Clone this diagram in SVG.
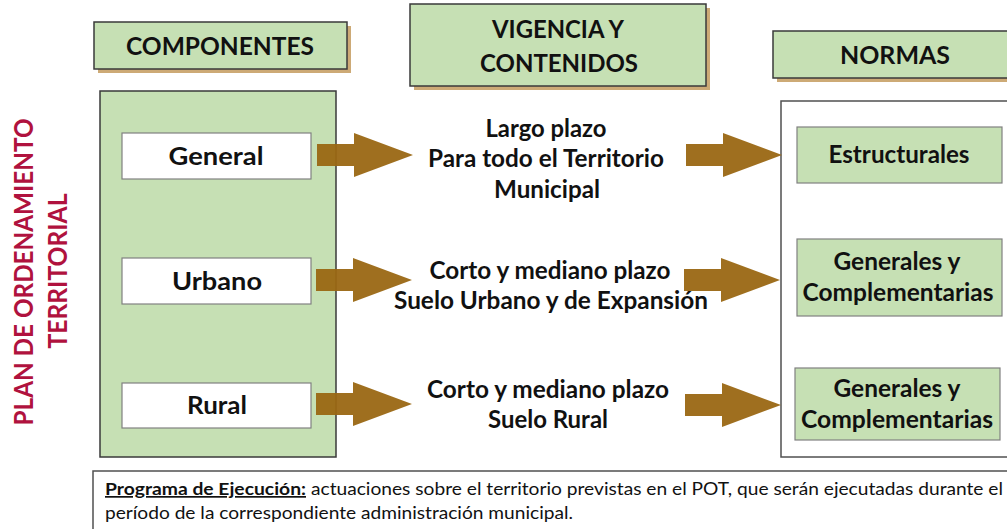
<svg xmlns="http://www.w3.org/2000/svg" width="1007" height="529" viewBox="0 0 1007 529">
<style>
.hdr{fill:#C6E0B4;stroke:#3A3A3A;stroke-width:1.5}
.shd{fill:#CDAA76}
.t{font-family:Lato,"Liberation Sans",sans-serif;font-weight:bold;font-size:24px;fill:#111;text-anchor:middle}
.h{font-size:25px}
.wbox{fill:#FFFFFF;stroke:#808080;stroke-width:1.2}
.gbox{fill:#C6E0B4;stroke:#808080;stroke-width:1.2}
.red{font-family:Lato,"Liberation Sans",sans-serif;font-weight:bold;font-size:26px;fill:#B0123E;text-anchor:middle}
.b{font-family:Lato,"Liberation Sans",sans-serif;font-size:17px;fill:#111}
.arr{fill:#9A6713;opacity:0.95}
</style>
<defs>
<path id="arrow" d="M0,-11 H37 V-22 L96,0 L37,22 V11 H0 Z"/>
</defs>
<rect width="1007" height="529" fill="#FFFFFF"/>

<g id="title">
<text class="red" transform="translate(33,272) rotate(-90)" textLength="307" lengthAdjust="spacingAndGlyphs">PLAN DE ORDENAMIENTO</text>
<text class="red" transform="translate(67,271) rotate(-90)" textLength="155" lengthAdjust="spacingAndGlyphs">TERRITORIAL</text>
</g>

<g id="hdr-componentes">
<rect class="shd" x="98" y="26" width="253" height="47"/>
<rect class="hdr" x="94" y="22" width="253" height="47"/>
<text class="t h" x="220" y="55" textLength="188" lengthAdjust="spacingAndGlyphs">COMPONENTES</text>
</g>
<g id="hdr-vigencia">
<rect class="shd" x="414" y="8" width="296" height="82"/>
<rect class="hdr" x="410" y="4" width="296" height="82"/>
<text class="t h" x="558" y="38" textLength="132" lengthAdjust="spacingAndGlyphs">VIGENCIA Y</text>
<text class="t h" x="559" y="72" textLength="158" lengthAdjust="spacingAndGlyphs">CONTENIDOS</text>
</g>
<g id="hdr-normas">
<rect class="shd" x="777" y="35" width="240" height="47"/>
<rect class="hdr" x="773" y="31" width="240" height="47"/>
<text class="t h" x="895" y="64" textLength="110" lengthAdjust="spacingAndGlyphs">NORMAS</text>
</g>

<g id="componentes-panel">
<rect x="100" y="91" width="236" height="366" fill="#C6E0B4" stroke="#3A3A3A" stroke-width="1.5"/>
</g>
<g id="normas-panel">
<rect x="781" y="101" width="240" height="356" fill="#FFFFFF" stroke="#505050" stroke-width="1.5"/>
</g>

<g id="comp-general">
<rect class="wbox" x="122" y="133" width="189" height="46"/>
<text class="t" x="216" y="165" textLength="95" lengthAdjust="spacingAndGlyphs">General</text>
</g>
<g id="comp-urbano">
<rect class="wbox" x="122" y="258" width="189" height="46"/>
<text class="t" x="217" y="290" textLength="90" lengthAdjust="spacingAndGlyphs">Urbano</text>
</g>
<g id="comp-rural">
<rect class="wbox" x="122" y="383" width="189" height="45"/>
<text class="t" x="217" y="414" textLength="60" lengthAdjust="spacingAndGlyphs">Rural</text>
</g>

<g id="vig-general">
<text class="t" x="546" y="137" textLength="121" lengthAdjust="spacingAndGlyphs">Largo plazo</text>
<text class="t" x="546" y="167" textLength="236" lengthAdjust="spacingAndGlyphs">Para todo el Territorio</text>
<text class="t" x="547" y="198" textLength="106" lengthAdjust="spacingAndGlyphs">Municipal</text>
</g>
<g id="vig-urbano">
<text class="t" x="550" y="279" textLength="241" lengthAdjust="spacingAndGlyphs">Corto y mediano plazo</text>
<text class="t" x="551" y="309" textLength="314" lengthAdjust="spacingAndGlyphs">Suelo Urbano y de Expansión</text>
</g>
<g id="vig-rural">
<text class="t" x="548" y="398" textLength="242" lengthAdjust="spacingAndGlyphs">Corto y mediano plazo</text>
<text class="t" x="548" y="428" textLength="120" lengthAdjust="spacingAndGlyphs">Suelo Rural</text>
</g>

<g id="norma-estructurales">
<rect class="gbox" x="797" y="127" width="205" height="56"/>
<text class="t" x="899" y="163" textLength="141" lengthAdjust="spacingAndGlyphs">Estructurales</text>
</g>
<g id="norma-urbano">
<rect class="gbox" x="797" y="239" width="205" height="77"/>
<text class="t" x="897" y="270" textLength="127" lengthAdjust="spacingAndGlyphs">Generales y</text>
<text class="t" x="898" y="301" textLength="191" lengthAdjust="spacingAndGlyphs">Complementarias</text>
</g>
<g id="norma-rural">
<rect class="gbox" x="795" y="368" width="205" height="72"/>
<text class="t" x="897" y="397" textLength="127" lengthAdjust="spacingAndGlyphs">Generales y</text>
<text class="t" x="897" y="428" textLength="192" lengthAdjust="spacingAndGlyphs">Complementarias</text>
</g>

<g id="connectors">
<use href="#arrow" class="arr" transform="translate(317,155)"/>
<use href="#arrow" class="arr" transform="translate(316,280)"/>
<use href="#arrow" class="arr" transform="translate(316,404)"/>
<use href="#arrow" class="arr" transform="translate(686,155)"/>
<use href="#arrow" class="arr" transform="translate(684,280)"/>
<use href="#arrow" class="arr" transform="translate(685,405)"/>
</g>

<g id="programa">
<rect x="93" y="471" width="930" height="70" fill="#FFFFFF" stroke="#505050" stroke-width="1.5"/>
<text class="b" x="105" y="495" font-weight="bold" text-decoration="underline" textLength="201" lengthAdjust="spacingAndGlyphs">Programa de Ejecución:</text>
<text class="b" x="311" y="495" textLength="692" lengthAdjust="spacingAndGlyphs">actuaciones sobre el territorio previstas en el POT, que serán ejecutadas durante el</text>
<text class="b" x="105" y="519" textLength="468" lengthAdjust="spacingAndGlyphs">período de la correspondiente administración municipal.</text>
</g>
</svg>
